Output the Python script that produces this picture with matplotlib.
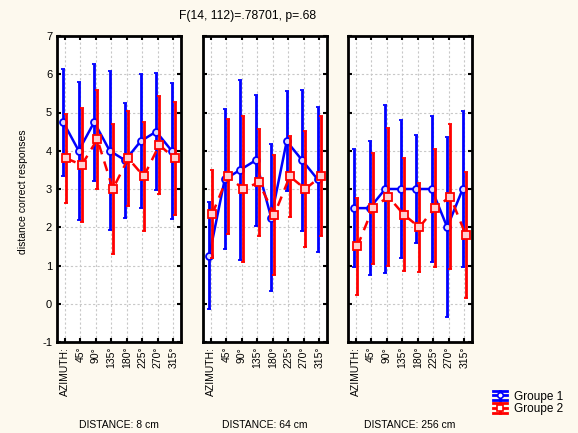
import matplotlib
matplotlib.use("Agg")
from matplotlib import pyplot as plt
from matplotlib.legend_handler import HandlerBase
from matplotlib.lines import Line2D
import numpy as np

plt.rcParams['font.family'] = ['Liberation Sans', 'DejaVu Sans']
plt.rcParams['axes.unicode_minus'] = False

# ===== data =====
azimuths = ['AZIMUTH:', '45°', '90°', '135°', '180°', '225°', '270°', '315°']
distances = ['DISTANCE: 8 cm', 'DISTANCE: 64 cm', 'DISTANCE: 256 cm']

g1_mean = [
    [4.75, 4.0, 4.75, 4.0, 3.75, 4.25, 4.5, 4.0],
    [1.25, 3.25, 3.5, 3.75, 2.25, 4.25, 3.75, 3.25],
    [2.5, 2.5, 3.0, 3.0, 3.0, 3.0, 2.0, 3.0],
]
g1_err = [
    [1.4, 1.8, 1.53, 2.08, 1.5, 1.75, 1.52, 1.78],
    [1.4, 1.83, 2.35, 1.72, 1.92, 1.31, 1.85, 1.9],
    [1.55, 1.75, 2.2, 1.8, 1.42, 1.9, 2.35, 2.04],
]
g2_mean = [
    [3.8, 3.63, 4.3, 3.0, 3.8, 3.33, 4.15, 3.8],
    [2.35, 3.33, 3.0, 3.17, 2.33, 3.33, 3.0, 3.33],
    [1.5, 2.5, 2.8, 2.33, 2.0, 2.5, 2.8, 1.8],
]
g2_err = [
    [1.17, 1.5, 1.3, 1.7, 1.25, 1.42, 1.27, 1.48],
    [1.15, 1.5, 1.9, 1.4, 1.57, 1.05, 1.52, 1.57],
    [1.27, 1.45, 1.8, 1.47, 1.16, 1.55, 1.9, 1.65],
]


class StatHandle(HandlerBase):
    # "I" shaped symbol: caps across the full width, a middle line and a marker
    def __init__(self, color, marker):
        super().__init__()
        self.color = color
        self.marker = marker

    def create_artists(self, legend, orig_handle, xdescent, ydescent, width,
                       height, fontsize, trans):
        x0, x1 = -xdescent, -xdescent + width
        y0, y1 = -ydescent, -ydescent + height
        ym, xm = (y0 + y1) / 2, (x0 + x1) / 2
        kw = dict(color=self.color, lw=2, transform=trans)
        arts = [Line2D([x0, x1], [y0, y0], **kw),
                Line2D([x0, x1], [y1, y1], **kw),
                Line2D([x0, x1], [ym, ym], **kw),
                Line2D([xm, xm], [y0, y1], **kw),
                Line2D([xm], [ym], marker=self.marker, ms=4, mfc='white',
                       mec=self.color, mew=1.2, transform=trans)]
        return arts


fig = plt.figure(figsize=(5.78, 4.33), dpi=100)
fig.patch.set_facecolor('#fdf9ee')

lefts = [57, 203, 348]
x = np.arange(len(azimuths))
handles = []
for i in range(3):
    ax = fig.add_axes([lefts[i] / 578, 91 / 433, 124 / 578, 306 / 433])
    ax.set_facecolor('white')
    h1 = ax.errorbar(x - 0.1, g1_mean[i], yerr=g1_err[i], color='#0000ff', lw=1.8,
                     elinewidth=2, capsize=1.5, capthick=1.5,
                     marker='o', ms=5, mfc='#d8d8ff', mec='#0000ff', mew=1.3,
                     label='Groupe 1', zorder=3)
    h2 = ax.errorbar(x + 0.1, g2_mean[i], yerr=g2_err[i], color='#ff0000', lw=1.8,
                     ls=(0, (4, 3)), elinewidth=2, capsize=1.5, capthick=1.5,
                     marker='s', ms=5.5, mfc='#ffd0d0', mec='#ff0000', mew=1.3,
                     label='Groupe 2', zorder=4)
    h2[2][0].set_linestyle('-')
    handles = [h1, h2]

    ax.set_xlim(-0.5, 7.5)
    ax.set_ylim(-1, 7)
    ax.set_yticks(range(-1, 8))
    ax.set_xticks(x)
    ax.set_xticklabels(azimuths, rotation=90, fontsize=7.5)
    if i == 0:
        ax.tick_params(axis='y', labelsize=8)
        ax.set_ylabel('distance correct responses', fontsize=7.5)
        ax.yaxis.set_label_coords(-29 / 124, 0.49)
    else:
        ax.set_yticklabels([])
    ax.tick_params(direction='in', length=3, width=1.5, top=True, right=True)
    ax.grid(True, color='#c8c8c8', ls=(0, (2, 2)), lw=0.8)
    ax.set_axisbelow(True)
    for s in ax.spines.values():
        s.set_linewidth(2)
    fig.text((lefts[i] + 62) / 578, 8 / 433, distances[i], ha='center', va='center',
             fontsize=7.5)

fig.text(248 / 578, 417 / 433, 'F(14, 112)=.78701, p=.68', ha='center', va='center',
         fontsize=8.7)

fig.legend(handles=handles, labels=['Groupe 1', 'Groupe 2'], loc='lower left',
           bbox_to_anchor=(487 / 578, 12 / 433), frameon=False, fontsize=8.5,
           handlelength=1.2, handleheight=0.8, handletextpad=0.6,
           labelspacing=0.05, borderpad=0,
           handler_map={handles[0]: StatHandle('#0000ff', 'o'),
                        handles[1]: StatHandle('#ff0000', 's')})

fig.savefig('out.png', dpi=100, facecolor=fig.get_facecolor())
